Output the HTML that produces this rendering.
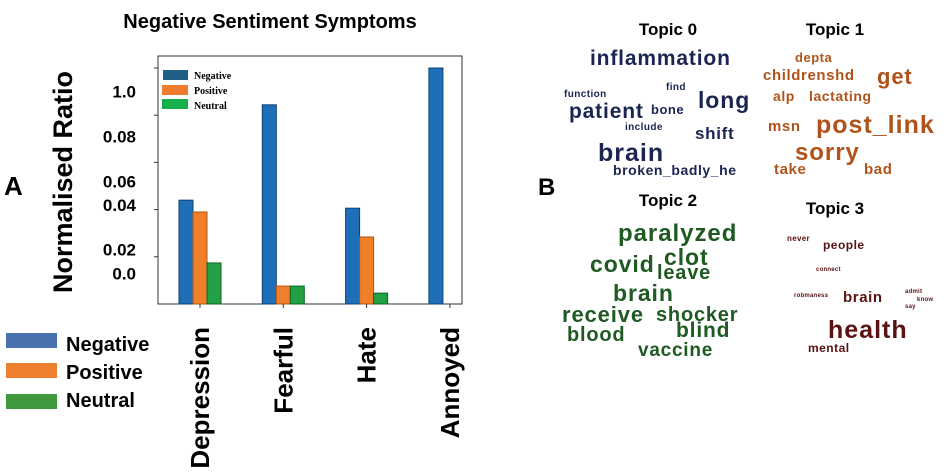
<!DOCTYPE html>
<html><head><meta charset="utf-8"><style>
html,body{margin:0;padding:0;background:#fff;}
svg{display:block;font-family:"Liberation Sans",sans-serif;}
.cloud text{font-weight:bold;letter-spacing:0.04em;}
</style></head><body>
<svg id="chart" width="944" height="476" viewBox="0 0 944 476">
<text x="270" y="28" text-anchor="middle" font-size="20" font-weight="bold">Negative Sentiment Symptoms</text>
<text x="4" y="195" font-size="26" font-weight="bold">A</text>
<text transform="translate(72,182) rotate(-90)" text-anchor="middle" font-size="27" font-weight="bold">Normalised Ratio</text>
<g id="yticks"></g>
<rect x="158" y="56" width="304" height="248" fill="none" stroke="#333" stroke-width="1"/>
<g id="bars"></g>
<g id="xlabels"></g>
<g font-family="'Liberation Serif',serif" font-weight="bold" font-size="10">
<rect x="163" y="70" width="25" height="10" fill="#1f5f86"/>
<text x="194" y="79">Negative</text>
<rect x="162" y="85" width="26" height="10" fill="#f07b2c"/>
<text x="194" y="94">Positive</text>
<rect x="162" y="99" width="26" height="10" fill="#15b04a"/>
<text x="194" y="109">Neutral</text>
</g>
<g font-size="20" font-weight="bold">
<rect x="6" y="333" width="51" height="15" fill="#4a72ae"/>
<text x="66" y="351">Negative</text>
<rect x="6" y="363" width="51" height="15" fill="#ef8030"/>
<text x="66" y="379">Positive</text>
<rect x="6" y="394" width="51" height="15" fill="#3f9a3f"/>
<text x="66" y="407">Neutral</text>
</g>
<text x="538" y="195" font-size="24" font-weight="bold">B</text>
<g font-weight="bold" font-size="17" text-anchor="middle">
<text x="668" y="35">Topic 0</text>
<text x="835" y="35">Topic 1</text>
<text x="668" y="206">Topic 2</text>
<text x="835" y="214">Topic 3</text>
</g>
<g class="cloud" fill="#1a2552">
<text x="590" y="65" font-size="21">inflammation</text>
<text x="564" y="97" font-size="10">function</text>
<text x="666" y="90" font-size="10">find</text>
<text x="698" y="108" font-size="23">long</text>
<text x="569" y="118" font-size="21">patient</text>
<text x="651" y="114" font-size="13">bone</text>
<text x="625" y="130" font-size="10">include</text>
<text x="695" y="139" font-size="17">shift</text>
<text x="598" y="161" font-size="25">brain</text>
<text x="613" y="175" font-size="14">broken_badly_he</text>
</g>
<g class="cloud" fill="#b0531a">
<text x="795" y="62" font-size="13">depta</text>
<text x="763" y="80" font-size="15">childrenshd</text>
<text x="877" y="84" font-size="22">get</text>
<text x="773" y="101" font-size="14">alp</text>
<text x="809" y="101" font-size="14">lactating</text>
<text x="768" y="131" font-size="15">msn</text>
<text x="816" y="133" font-size="25">post_link</text>
<text x="795" y="160" font-size="24">sorry</text>
<text x="774" y="174" font-size="15">take</text>
<text x="864" y="174" font-size="15">bad</text>
</g>
<g class="cloud" fill="#1e5a22">
<text x="618" y="241" font-size="24">paralyzed</text>
<text x="664" y="265" font-size="23">clot</text>
<text x="590" y="272" font-size="23">covid</text>
<text x="657" y="279" font-size="20">leave</text>
<text x="613" y="301" font-size="23">brain</text>
<text x="656" y="321" font-size="20">shocker</text>
<text x="562" y="322" font-size="22">receive</text>
<text x="676" y="337" font-size="21">blind</text>
<text x="567" y="341" font-size="20">blood</text>
<text x="638" y="356" font-size="19">vaccine</text>
</g>
<g class="cloud" fill="#5a1212">
<text x="787" y="241" font-size="8">never</text>
<text x="823" y="249" font-size="12">people</text>
<text x="816" y="271" font-size="6">connect</text>
<text x="794" y="297" font-size="6">robmaness</text>
<text x="843" y="302" font-size="15">brain</text>
<text x="905" y="293" font-size="6">admit</text>
<text x="917" y="301" font-size="6">know</text>
<text x="905" y="308" font-size="6">say</text>
<text x="828" y="338" font-size="25">health</text>
<text x="808" y="352" font-size="12">mental</text>
</g>
</svg>
<script>
const categories = ["Depression", "Fearful", "Hate", "Annoyed"];
const negativeValues = [2.20, 4.22, 2.03, 5.0];
const positiveValues = [1.95, 0.38, 1.42, 0];
const neutralValues = [0.87, 0.38, 0.23, 0];
const tickLabels = ["1.0", "0.08", "0.06", "0.04", "0.02", "0.0"];
const tickLabelValues = [4.5, 3.55, 2.6, 2.1, 1.15, 0.65];
const tickMarkValues = [1, 2, 3, 4, 5];

const NS = "http://www.w3.org/2000/svg";
const x0 = 158, groupW = 83.3, barW = 14;
const yBase = 304, pxPerUnit = 47.2;
function yScale(v){ return yBase - v * pxPerUnit; }
function xCenter(i){ return x0 + 42 + i * groupW; }
function mk(tag, attrs, parent){
  const e = document.createElementNS(NS, tag);
  for (const k in attrs) e.setAttribute(k, attrs[k]);
  parent.appendChild(e);
  return e;
}
const yt = document.getElementById("yticks");
tickMarkValues.forEach(v => {
  const l = mk("line", {x1:154, x2:158, y1:yScale(v), y2:yScale(v), stroke:"#333"}, yt);
  
  
});
tickLabels.forEach((t, i) => {
  const e = mk("text", {x:136, y:yScale(tickLabelValues[i]) + 6, "text-anchor":"end", "font-size":17, "font-weight":"bold"}, yt);
  e.textContent = t;
  
  
});
const bars = document.getElementById("bars");
const series = [[negativeValues, "#1f6fb8", "#0e3f75"], [positiveValues, "#f07f2a", "#b25510"], [neutralValues, "#23a044", "#0e6425"]];
series.forEach((s, si) => {
  s[0].forEach((v, i) => {
    if (v <= 0) return;
    const r = mk("rect", {x: xCenter(i) - 21 + si * barW, y: yScale(v), width: barW, height: yBase - yScale(v), fill: s[1], stroke: s[2], "stroke-width": 1}, bars);
    
    
  });
});
const xl = document.getElementById("xlabels");
categories.forEach((c, i) => {
  const cx = xCenter(i);
  const tk = mk("line", {x1:cx, x2:cx, y1:304, y2:308, stroke:"#333"}, xl);
  
  
  const t = mk("text", {transform:"translate(" + (cx + 9) + ",327) rotate(-90)", "text-anchor":"end", "font-size":26, "font-weight":"bold"}, xl);
  t.textContent = c;
  
  
});
</script>
</body></html>
